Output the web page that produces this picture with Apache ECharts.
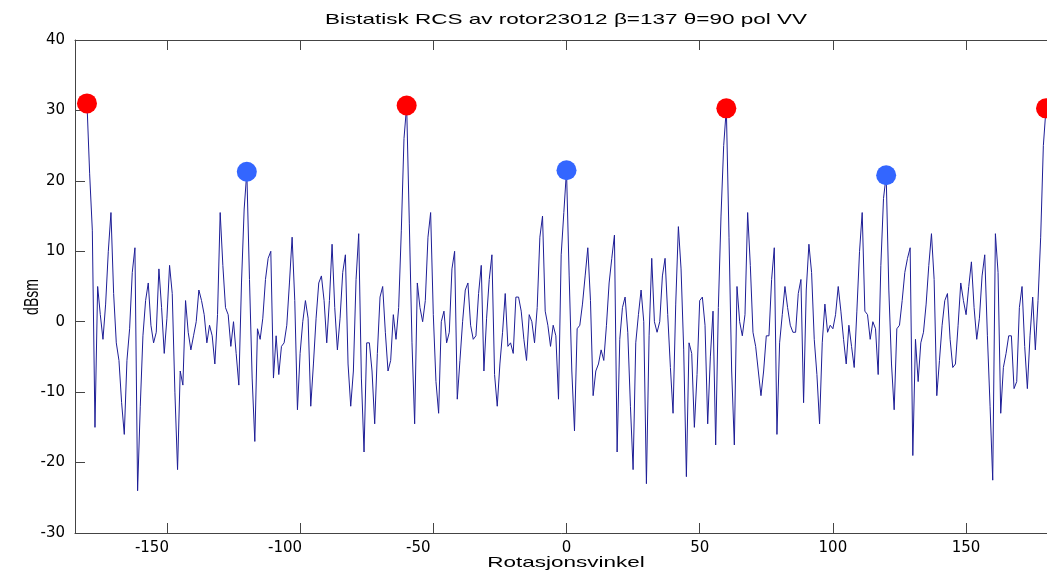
<!DOCTYPE html>
<html>
<head>
<meta charset="utf-8">
<script src="https://cdn.jsdelivr.net/npm/echarts@6/dist/echarts.min.js"></script>
<style>
html,body{margin:0;padding:0;background:#fff;}
#c{width:1047px;height:572px;}
</style>
</head>
<body>
<div id="c"></div>
<script>
// RCS values (dBsm), one per degree from -180 to 180
const rcs = [
 31, 21, 13, -15, 5, 1, -2.5, 2.5, 10, 15.5,
 4, -3, -5.5, -11.5, -16, -5.5, -1, 7, 10.5, -24,
 -12, -2, 3, 5.5, -0.5, -3, -1.5, 7.5, 2, -4.5,
 0.5, 8, 4, -10, -21, -7, -9, 3, -1.5, -4,
 -2, 0, 4.5, 3, 1, -3, -0.5, -2, -6, 1,
 15.5, 8, 2, 1, -3.5, 0, -4.5, -9, 5.5, 16,
 21.3, 6, -8, -17, -1, -2.5, 0.5, 6, 9, 10,
 -8, -2, -7.5, -3.5, -3, -0.5, 5.5, 12, 3, -12.5,
 -4.5, 0, 3, 0.5, -12, -6, 0.5, 5.5, 6.5, 3,
 -3, 3, 11, 2, -4, 0.5, 7, 9.5, -6, -12,
 -7, 6, 12.5, -8, -18.5, -3, -3, -7, -14.5, -4.5,
 3.5, 5, -1.5, -7, -5.5, 1, -2.5, 2, 13, 26,
 30.7, 14, -3, -14.5, 5.5, 2, 0, 3, 12, 15.5,
 1, -8.5, -13, 0, 1.5, -3, -1.5, 7.5, 10, -11,
 -5.5, 0, 4.5, 5.5, -0.5, -2.5, -2, 4, 8, -7,
 0.5, 6, 9.5, -7.5, -12, -6, -1.5, 4, -3.5, -3,
 -4.5, 3.5, 3.5, 1.5, -2.5, -5.5, 1, 0, -3, 2,
 12, 15, 1.5, -0.5, -3.5, -0.5, -2, -11, 9.5, 15.5,
 21.5, 6.5, -7, -15.5, -1, -0.5, 2.5, 6.5, 10.5, 3,
 -10.5, -7, -6, -4, -5.5, -0.5, 5.5, 9, 12.3, -18.5,
 -2.5, 2, 3.5, -1.5, -12, -21, -3, 1, 4.5, 0,
 -23, -2, 9, 0, -1.5, 0, 6.5, 9, 1, -6.5,
 -13, 2.5, 13.5, 7.5, -4, -22, -3, -4.5, -15, -7.5,
 3, 3.5, -0.5, -14.5, -5, 1.5, -17.5, 2, 15, 25,
 30.3, 12, -7, -17.5, 5, 0, -2, 1, 15.5, 8,
 -1.5, -3.5, -7, -10.5, -7, -2, -2, 6, 10.5, -16,
 -3, 1, 5, 2, -0.5, -1.5, -1.5, 4, 6, -11.5,
 4.5, 11, 7, -2.5, -7.5, -14.5, -3, 2.5, -1.5, -0.5,
 -1, 1, 5, 1.5, -2.5, -6, -0.5, -3.5, -6.5, 1.5,
 10, 15.5, 1.5, 1, -2.5, 0, -1, -7.5, 8, 17.5,
 20.8, 4.5, -6, -12.5, -1, -0.5, 3, 7, 9, 10.5,
 -19, -2.5, -8.5, -3, -1.5, 2.5, 8, 12.5, 6, -10.5,
 -5.5, -0.5, 3, 4, -2.5, -6.5, -6, -0.5, 5.5, 3,
 1, 5, 8.5, 2, -2.5, 0.5, 6.5, 9.5, -2, -12,
 -22.5, 12.5, 7, -13, -6.5, -4.5, -2, -2, -9.5, -8.5,
 2, 5, -3.5, -9.5, -2, 3.5, -4, 3, 12, 25,
 30.3
];
const startAngle = -180;
const angles = rcs.map((_, i) => startAngle + i);

const redPeakAngles = [-180, -60, 60, 180];
const redPeakValues = [31, 30.7, 30.3, 30.3];
const bluePeakAngles = [-120, 0, 120];
const bluePeakValues = [21.3, 21.5, 20.8];

const xTicks = [-150, -100, -50, 0, 50, 100, 150];
const yTicks = [-30, -20, -10, 0, 10, 20, 30, 40];

const titleText = 'Bistatisk RCS av rotor23012 \u03b2=137 \u03b8=90 pol VV';
const xName = 'Rotasjonsvinkel';
const yName = 'dBsm';

const chart = echarts.init(document.getElementById('c'), null, {renderer: 'canvas'});
const font = "'Liberation Sans', Arial, Helvetica, sans-serif";
const labelFont = "'DejaVu Sans', 'Liberation Sans', Arial, sans-serif";
const axisColor = '#444';
const xLabelFmt = v => {
  const r = Math.round(v * 10) / 10;
  if (xTicks.indexOf(r) < 0) return '';
  return r < 0 ? '{neg|' + r + '}' : String(r);
};

chart.setOption({
  animation: false,
  backgroundColor: '#fff',
  graphic: [{
    type: 'text', x: 566, y: 20, scaleX: 1.5,
    style: {text: titleText, fontFamily: font, fontSize: 15, fill: '#000',
      textAlign: 'center', textVerticalAlign: 'middle', align: 'center', verticalAlign: 'middle'}
  }, {
    type: 'text', x: 566, y: 563, scaleX: 1.5,
    style: {text: xName, fontFamily: font, fontSize: 15, fill: '#000',
      textAlign: 'center', textVerticalAlign: 'middle', align: 'center', verticalAlign: 'middle'}
  }, {
    type: 'text', x: 32, y: 297, rotation: Math.PI / 2, scaleX: 1, scaleY: 1.45,
    style: {text: yName, fontFamily: font, fontSize: 14, fill: '#000',
      textAlign: 'center', textVerticalAlign: 'middle', align: 'center', verticalAlign: 'middle'}
  }],
  grid: {left: 75, top: 40, width: 983, height: 493, containLabel: false, outerBoundsMode: 'none'},
  xAxis: [{
    type: 'value', min: -184.5, max: 184.5, splitNumber: 7,
    axisLine: {show: true, onZero: false, lineStyle: {color: axisColor, width: 1}},
    axisTick: {show: true, inside: true, length: 10, lineStyle: {color: axisColor}},
    axisLabel: {show: true, showMinLabel: false, showMaxLabel: false, margin: 8,
      fontFamily: labelFont, fontSize: 15, color: '#000', formatter: xLabelFmt,
      rich: {neg: {fontFamily: labelFont, fontSize: 15, color: '#000', padding: [0, 30, 0, 0]}}},
    splitLine: {show: false}
  }, {
    type: 'value', position: 'top', min: -184.5, max: 184.5, splitNumber: 7,
    axisLine: {show: true, onZero: false, lineStyle: {color: axisColor, width: 1}},
    axisTick: {show: true, inside: true, length: 10, lineStyle: {color: axisColor}},
    axisLabel: {show: false},
    splitLine: {show: false}
  }],
  yAxis: [{
    type: 'value', min: yTicks[0], max: yTicks[yTicks.length - 1], interval: 10,
    axisLine: {show: true, onZero: false, lineStyle: {color: axisColor, width: 1}},
    axisTick: {show: true, inside: true, length: 10, lineStyle: {color: axisColor}},
    axisLabel: {show: true, margin: 10, fontFamily: labelFont, fontSize: 15, color: '#000'},
    splitLine: {show: false}
  }, {
    type: 'value', position: 'right', min: yTicks[0], max: yTicks[yTicks.length - 1], interval: 10,
    axisLine: {show: true, onZero: false, lineStyle: {color: axisColor, width: 1}},
    axisTick: {show: true, inside: true, length: 10, lineStyle: {color: axisColor}},
    axisLabel: {show: false},
    splitLine: {show: false}
  }],
  series: [{
    type: 'line',
    data: angles.map((a, i) => [a, rcs[i]]),
    showSymbol: false,
    symbol: 'none',
    lineStyle: {color: '#1e1e96', width: 1},
    z: 2
  }, {
    type: 'scatter',
    data: redPeakAngles.map((a, i) => [a, redPeakValues[i]]),
    symbolSize: 20,
    itemStyle: {color: '#ff0000', opacity: 1},
    z: 3
  }, {
    type: 'scatter',
    data: bluePeakAngles.map((a, i) => [a, bluePeakValues[i]]),
    symbolSize: 20,
    itemStyle: {color: '#3366ff', opacity: 1},
    z: 3
  }]
});
</script>
</body>
</html>
